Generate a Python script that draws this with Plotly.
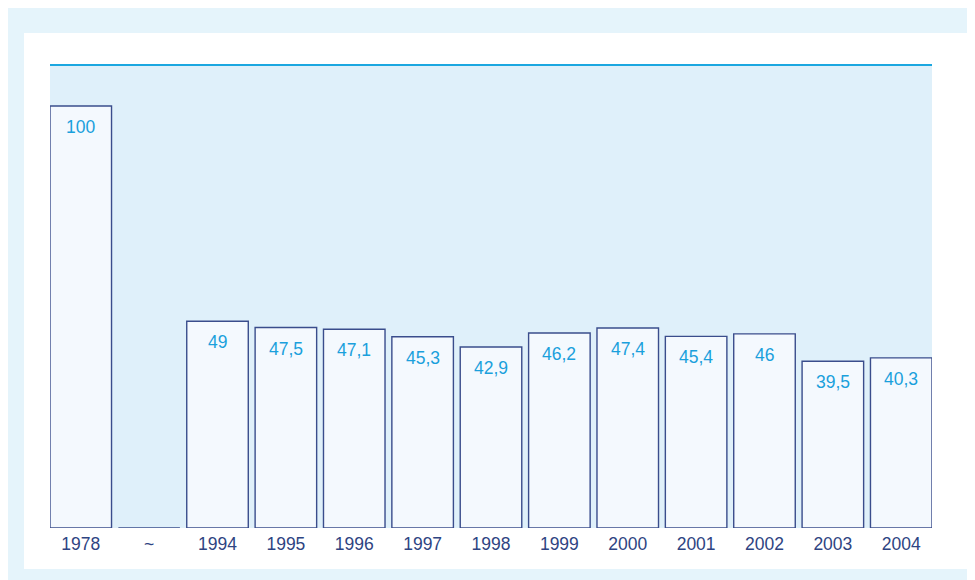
import plotly.graph_objects as go

categories = ["1978", "~", "1994", "1995", "1996", "1997", "1998", "1999", "2000", "2001", "2002", "2003", "2004"]
values = [100, 0, 49, 47.5, 47.1, 45.3, 42.9, 46.2, 47.4, 45.4, 46, 39.5, 40.3]
labels = ["100", "", "49", "47,5", "47,1", "45,3", "42,9", "46,2", "47,4", "45,4", "46", "39,5", "40,3"]

OUTER = "#e5f4fb"
PLOT_BG = "#dff0fa"
BAR_FILL = "#f4f9fe"
BAR_LINE = "#3a4d8c"
LABEL = "#1aa0dc"
TICK = "#2e4482"
FONT = "Liberation Sans, Arial, sans-serif"

fig = go.Figure()
fig.add_trace(go.Bar(
    x=categories, y=values, width=0.9,
    marker=dict(color=BAR_FILL, line=dict(color=BAR_LINE, width=1.4)),
    hoverinfo="skip",
))

for i, (v, t) in enumerate(zip(values, labels)):
    if t:
        fig.add_annotation(x=i, y=v, xref="x", yref="y", text=t, showarrow=False,
                           yanchor="top", yshift=-9,
                           font=dict(family=FONT, size=17.5, color=LABEL))

# white panel behind plot
fig.add_shape(type="rect", xref="paper", yref="paper", x0=-0.0295, x1=1.05, y0=-0.0886, y1=1.069,
              fillcolor="white", line=dict(width=0), layer="below")
# plot area background
fig.add_shape(type="rect", xref="paper", yref="paper", x0=0, x1=1, y0=0, y1=1,
              fillcolor=PLOT_BG, line=dict(width=0), layer="below")
# top line
fig.add_shape(type="line", xref="paper", yref="paper", x0=0, x1=1, y0=1, y1=1,
              line=dict(color="#1ba7e0", width=2))

fig.update_layout(
    width=960, height=572,
    margin=dict(l=42, r=36, t=57, b=52),
    paper_bgcolor=OUTER, plot_bgcolor="rgba(0,0,0,0)",
    showlegend=False, bargap=0.1,
    font=dict(family=FONT),
    xaxis=dict(type="category", range=[-0.45, 12.45], showgrid=False, zeroline=False, showline=False,
               tickfont=dict(family=FONT, size=17.5, color=TICK), ticks="", ticklabelstandoff=3),
    yaxis=dict(range=[0, 109.7], visible=False, showgrid=False, zeroline=False),
)

fig.write_html("out.html")
